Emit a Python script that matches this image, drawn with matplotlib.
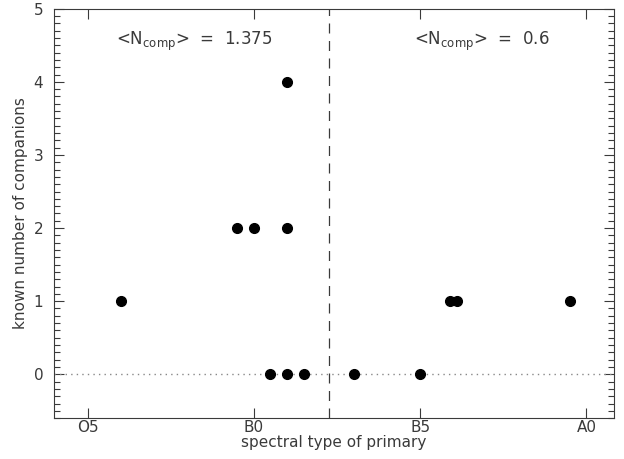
import matplotlib
matplotlib.use('Agg')
import matplotlib.pyplot as plt
from matplotlib.ticker import MultipleLocator

# spectral type coded as number: O5=5, B0=10, B5=15, A0=20
spec_left = [6.0, 9.5, 10.0, 11.0, 11.0, 10.5, 11.0, 11.5]
ncomp_left = [1, 2, 2, 4, 2, 0, 0, 0]
spec_right = [13.0, 15.0, 15.9, 16.1, 19.5]
ncomp_right = [0, 0, 1, 1, 1]

tick_pos = [5, 10, 15, 20]
tick_labels = ['O5', 'B0', 'B5', 'A0']
divider = 12.25

plt.rcParams['font.family'] = 'DejaVu Sans'
plt.rcParams['mathtext.default'] = 'regular'
ink = '#3a3a3a'

fig = plt.figure(figsize=(6.24, 4.59), dpi=100)
ax = fig.add_axes([0.087, 0.089, 0.897, 0.892])

ax.plot(spec_left + spec_right, ncomp_left + ncomp_right, 'o', color='black',
        markersize=7, zorder=3)
ax.axhline(0, color='#888888', linestyle=(0, (1, 3)), linewidth=1)
ax.axvline(divider, color=ink, linestyle=(0, (8, 6)), linewidth=0.9)

mean_l = sum(ncomp_left) / len(ncomp_left)
mean_r = sum(ncomp_right) / len(ncomp_right)
ax.text(8.2, 4.55, r'<N$_{comp}$>  =  %g' % mean_l, ha='center', va='center',
        fontsize=12, color=ink)
ax.text(16.85, 4.55, r'<N$_{comp}$>  =  %g' % mean_r, ha='center', va='center',
        fontsize=12, color=ink)

ax.set_xlim(4, 20.83)
ax.set_ylim(-0.6, 5)
ax.set_xticks(tick_pos)
ax.set_xticklabels(tick_labels)
ax.yaxis.set_major_locator(MultipleLocator(1))
ax.yaxis.set_minor_locator(MultipleLocator(0.1))
ax.tick_params(which='both', direction='in', top=True, right=True,
               colors=ink, labelcolor=ink, labelsize=11, width=0.8)
ax.tick_params(which='major', length=7)
ax.tick_params(axis='y', which='major', pad=8)
ax.tick_params(axis='x', which='major', pad=1)
ax.tick_params(which='minor', length=4)
for s in ax.spines.values():
    s.set_color(ink)
    s.set_linewidth(0.8)

ax.set_xlabel('spectral type of primary', fontsize=11, color=ink, labelpad=0)
ax.set_ylabel('known number of companions', fontsize=11, color=ink, labelpad=4)

fig.savefig('out.png', dpi=100)
